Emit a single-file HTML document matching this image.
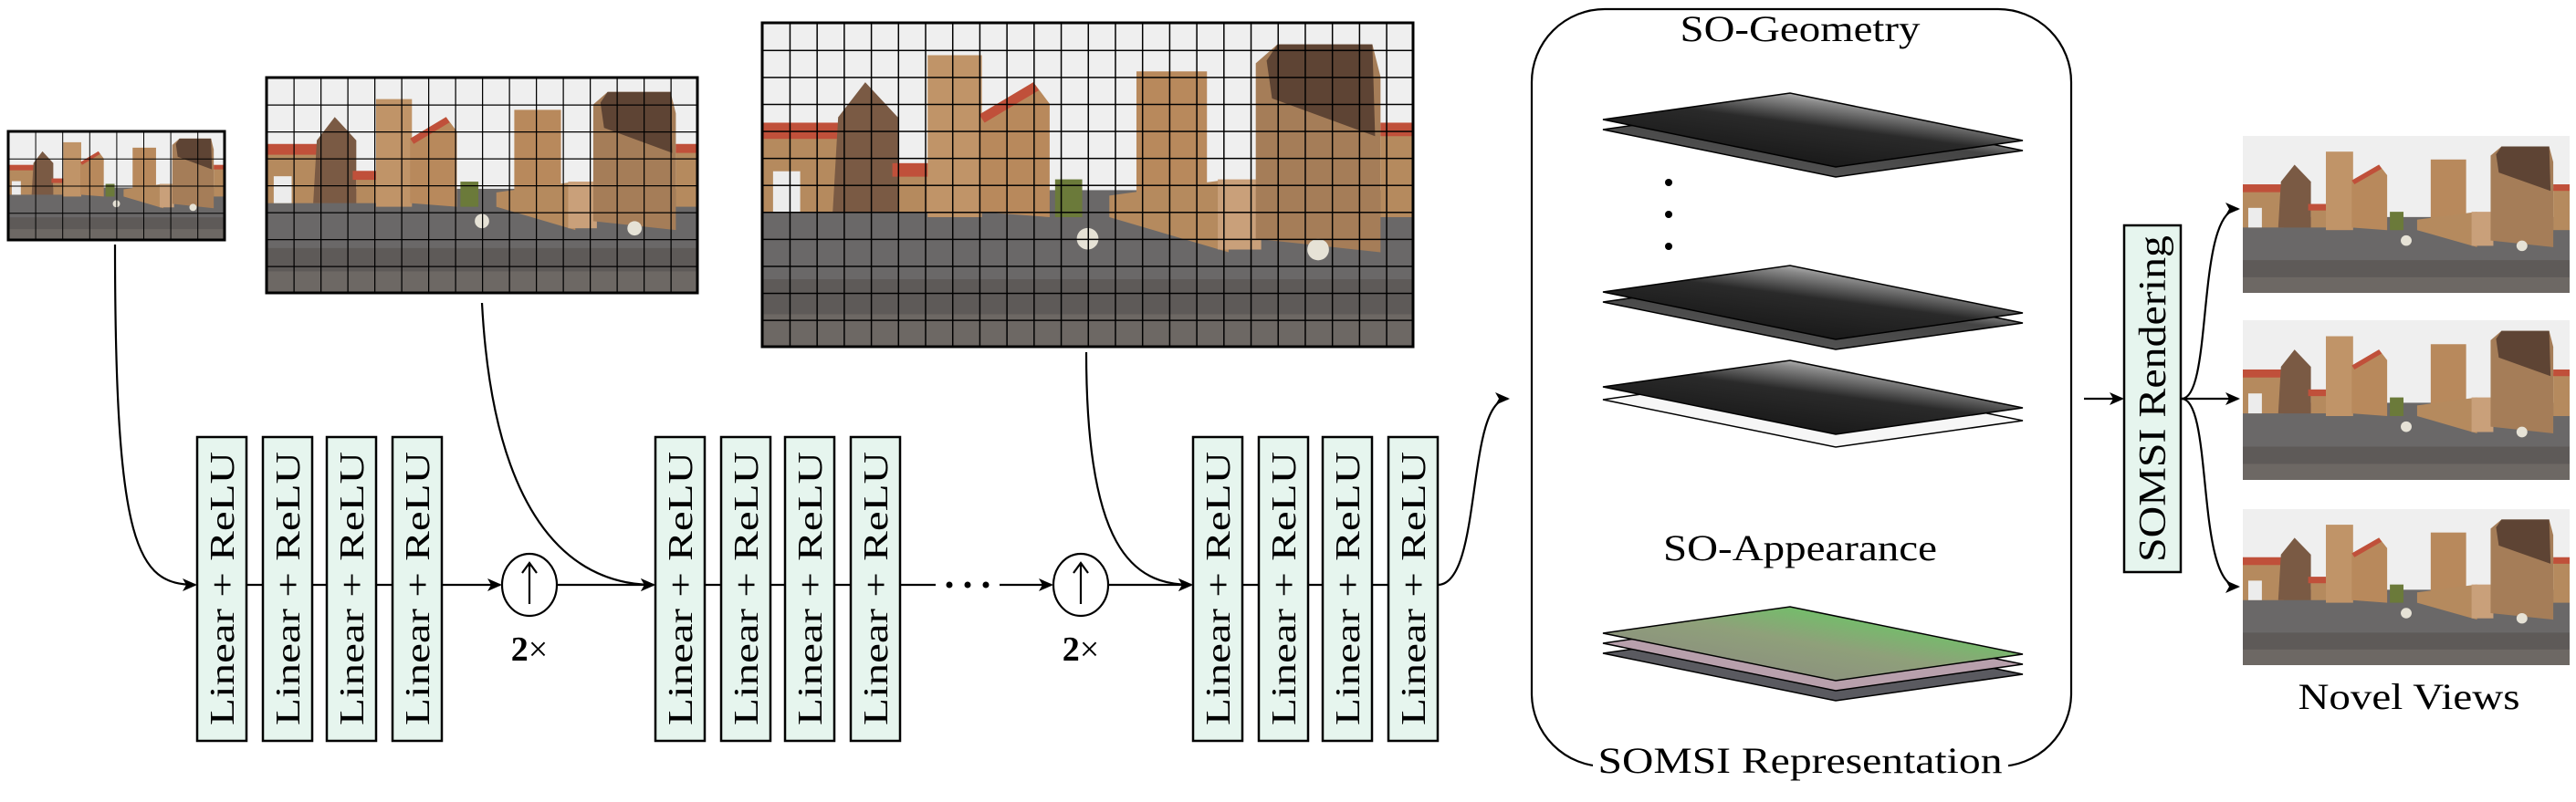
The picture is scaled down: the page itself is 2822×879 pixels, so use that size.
<!DOCTYPE html>
<html><head><meta charset="utf-8"><style>html,body{margin:0;padding:0;background:#fff}svg{display:block}</style></head>
<body>
<svg width="2822" height="879" viewBox="0 0 2822 879" xmlns="http://www.w3.org/2000/svg" font-family="'Liberation Serif', serif">
<defs>
<marker id="ah" markerWidth="16" markerHeight="14" refX="14" refY="7" orient="auto" markerUnits="userSpaceOnUse">
<path d="M0,0 L16,7 L0,14 L4,7 Z" fill="#000"/></marker>
<symbol id="scene" viewBox="0 0 240 120" preserveAspectRatio="none">
<rect width="240" height="120" fill="#efefef"/>
<rect y="62" width="240" height="58" fill="#6a6868"/>
<rect y="95" width="240" height="25" fill="#5e5a58"/>
<rect y="108" width="240" height="12" fill="#6d6864"/>
<rect x="0" y="40" width="30" height="30" fill="#b58a5e"/><rect x="0" y="37" width="30" height="6" fill="#c0503a"/>
<rect x="4" y="55" width="10" height="15" fill="#ececec"/>
<polygon points="26,70 28,35 38,22 50,35 50,70" fill="#7a5a44"/>
<rect x="50" y="56" width="16" height="14" fill="#b58a5e"/><rect x="48" y="52" width="18" height="5" fill="#c0503a"/>
<rect x="61" y="12" width="20" height="60" fill="#c09468"/>
<polygon points="80,70 80,34 100,22 106,30 106,72" fill="#b8895c"/><polygon points="80,34 100,22 102,25 82,37" fill="#c0503a"/>
<rect x="108" y="58" width="10" height="14" fill="#6b7a3a"/>
<rect x="138" y="18" width="26" height="50" fill="#b8895c"/>
<polygon points="128,64 172,58 172,85 128,72" fill="#b58a5e"/>
<rect x="168" y="58" width="16" height="26" fill="#c9a07a"/>
<polygon points="182,80 182,15 190,8 225,8 228,20 228,85" fill="#a57d58"/>
<polygon points="186,14 190,8 225,8 226,42 188,28" fill="#5e4434"/>
<rect x="228" y="40" width="12" height="32" fill="#b58a5e"/><rect x="228" y="37" width="12" height="5" fill="#c0503a"/>
<circle cx="120" cy="80" r="4" fill="#e6e2d6"/><circle cx="205" cy="84" r="4" fill="#e6e2d6"/>
</symbol>
<linearGradient id="geo" x1="0.2" y1="0.9" x2="0.8" y2="0.1"><stop offset="0" stop-color="#151515"/><stop offset="0.55" stop-color="#2a2a2a"/><stop offset="0.8" stop-color="#888"/><stop offset="1" stop-color="#f4f4f4"/></linearGradient>
<linearGradient id="geo2" x1="0.2" y1="0.9" x2="0.8" y2="0.1"><stop offset="0" stop-color="#555"/><stop offset="0.6" stop-color="#444"/><stop offset="1" stop-color="#fff"/></linearGradient>
<linearGradient id="app" x1="0.1" y1="0.9" x2="0.9" y2="0.1"><stop offset="0" stop-color="#8a8a80"/><stop offset="0.5" stop-color="#8fa07a"/><stop offset="1" stop-color="#5fd35f"/></linearGradient>
<pattern id="g24" width="29.71" height="29.58" patternUnits="userSpaceOnUse" x="835" y="25"><path d="M0,0 H29.71 M0,0 V29.58" stroke="#000" stroke-width="3" fill="none"/></pattern>
<pattern id="g16" width="29.5" height="29.5" patternUnits="userSpaceOnUse" x="292" y="85"><path d="M0,0 H29.5 M0,0 V29.5" stroke="#000" stroke-width="2.5" fill="none"/></pattern>
<pattern id="g8" width="29.6" height="29.75" patternUnits="userSpaceOnUse" x="9" y="144"><path d="M0,0 H29.6 M0,0 V29.75" stroke="#000" stroke-width="2" fill="none"/></pattern>
</defs>

<!-- input images -->
<use href="#scene" x="9" y="144" width="237" height="119"/><rect x="9" y="144" width="237" height="119" fill="url(#g8)" stroke="#000" stroke-width="3"/>
<use href="#scene" x="292" y="85" width="472" height="236"/><rect x="292" y="85" width="472" height="236" fill="url(#g16)" stroke="#000" stroke-width="3"/>
<use href="#scene" x="835" y="25" width="713" height="355"/><rect x="835" y="25" width="713" height="355" fill="url(#g24)" stroke="#000" stroke-width="3"/>

<!-- connectors -->
<g fill="none" stroke="#000" stroke-width="2.2">
<path d="M126,268 C126,600 150,641 214,641" marker-end="url(#ah)"/>
<path d="M528,332 C540,560 620,641 716,641" marker-end="url(#ah)"/>
<path d="M1190,386 C1190,600 1240,641 1305,641" marker-end="url(#ah)"/>
<path d="M484,641 L548,641" marker-end="url(#ah)"/>
<path d="M216,641 H484"/>
<path d="M610,641 L716,641" marker-end="url(#ah)"/>
<path d="M718,641 H1025"/>
<path d="M1095,641 L1152,641" marker-end="url(#ah)"/>
<path d="M1214,641 L1305,641" marker-end="url(#ah)"/>
<path d="M1307,641 H1575"/>
<path d="M1575,641 C1625,641 1605,437 1652,437" marker-end="url(#ah)"/>
<path d="M2283,437 L2325,437" marker-end="url(#ah)"/>
<path d="M2390,437 C2425,437 2405,229 2452,229" marker-end="url(#ah)"/>
<path d="M2390,437 L2452,437" marker-end="url(#ah)"/>
<path d="M2390,437 C2425,437 2405,643 2452,643" marker-end="url(#ah)"/>
</g>
<g fill="#000"><circle cx="1040" cy="641" r="3.5"/><circle cx="1060" cy="641" r="3.5"/><circle cx="1080" cy="641" r="3.5"/></g>

<!-- circles -->
<g stroke="#000" stroke-width="2.2" fill="#fff">
<ellipse cx="580" cy="641" rx="30" ry="34"/><ellipse cx="1184" cy="641" rx="30" ry="34"/>
</g>
<g stroke="#000" stroke-width="2.2" fill="none">
<path d="M580,662 V618 M572,628 L580,617 L588,628"/><path d="M1184,662 V618 M1176,628 L1184,617 L1192,628"/>
</g>
<text x="580" y="724" font-size="38" text-anchor="middle"><tspan font-weight="bold">2</tspan>×</text>
<text x="1184" y="724" font-size="38" text-anchor="middle"><tspan font-weight="bold">2</tspan>×</text>

<!-- linear boxes -->
<g stroke="#000" stroke-width="2.5" fill="#e6f5ee">
<rect x="216" y="479" width="54" height="333"/><rect x="288" y="479" width="54" height="333"/><rect x="358" y="479" width="54" height="333"/><rect x="430" y="479" width="54" height="333"/>
<rect x="718" y="479" width="54" height="333"/><rect x="790" y="479" width="54" height="333"/><rect x="860" y="479" width="54" height="333"/><rect x="932" y="479" width="54" height="333"/>
<rect x="1307" y="479" width="54" height="333"/><rect x="1379" y="479" width="54" height="333"/><rect x="1449" y="479" width="54" height="333"/><rect x="1521" y="479" width="54" height="333"/>
</g>
<g font-size="38" text-anchor="middle">
<text transform="translate(256,645) rotate(-90)" textLength="300" lengthAdjust="spacingAndGlyphs">Linear + ReLU</text>
<text transform="translate(328,645) rotate(-90)" textLength="300" lengthAdjust="spacingAndGlyphs">Linear + ReLU</text>
<text transform="translate(398,645) rotate(-90)" textLength="300" lengthAdjust="spacingAndGlyphs">Linear + ReLU</text>
<text transform="translate(470,645) rotate(-90)" textLength="300" lengthAdjust="spacingAndGlyphs">Linear + ReLU</text>
<text transform="translate(758,645) rotate(-90)" textLength="300" lengthAdjust="spacingAndGlyphs">Linear + ReLU</text>
<text transform="translate(830,645) rotate(-90)" textLength="300" lengthAdjust="spacingAndGlyphs">Linear + ReLU</text>
<text transform="translate(900,645) rotate(-90)" textLength="300" lengthAdjust="spacingAndGlyphs">Linear + ReLU</text>
<text transform="translate(972,645) rotate(-90)" textLength="300" lengthAdjust="spacingAndGlyphs">Linear + ReLU</text>
<text transform="translate(1347,645) rotate(-90)" textLength="300" lengthAdjust="spacingAndGlyphs">Linear + ReLU</text>
<text transform="translate(1419,645) rotate(-90)" textLength="300" lengthAdjust="spacingAndGlyphs">Linear + ReLU</text>
<text transform="translate(1489,645) rotate(-90)" textLength="300" lengthAdjust="spacingAndGlyphs">Linear + ReLU</text>
<text transform="translate(1561,645) rotate(-90)" textLength="300" lengthAdjust="spacingAndGlyphs">Linear + ReLU</text>
</g>

<!-- SOMSI representation -->
<rect x="1678" y="10" width="591" height="830" rx="80" ry="80" fill="none" stroke="#000" stroke-width="2.2"/>
<rect x="1745" y="815" width="455" height="40" fill="#fff"/>
<text x="1972" y="847" font-size="40" text-anchor="middle" textLength="443" lengthAdjust="spacingAndGlyphs">SOMSI Representation</text>
<text x="1972" y="45" font-size="40" text-anchor="middle" textLength="263" lengthAdjust="spacingAndGlyphs">SO-Geometry</text>
<text x="1972" y="614" font-size="40" text-anchor="middle" textLength="300" lengthAdjust="spacingAndGlyphs">SO-Appearance</text>

<g stroke="#000" stroke-width="1.5">
<g transform="translate(0,11)"><polygon points="1756,131 1961,102 2216,154 2011,183" fill="url(#geo2)"/></g>
<polygon points="1756,131 1961,102 2216,154 2011,183" fill="url(#geo)"/>
<g transform="translate(0,200)"><polygon points="1756,131 1961,102 2216,154 2011,183" fill="url(#geo2)"/></g>
<g transform="translate(0,189)"><polygon points="1756,131 1961,102 2216,154 2011,183" fill="url(#geo)"/></g>
<g transform="translate(0,307)"><polygon points="1756,131 1961,102 2216,154 2011,183" fill="#f6f6f6"/></g>
<g transform="translate(0,293)"><polygon points="1756,131 1961,102 2216,154 2011,183" fill="url(#geo)"/></g>
<g transform="translate(0,585)"><polygon points="1756,131 1961,102 2216,154 2011,183" fill="#5a5a60"/></g>
<g transform="translate(0,574)"><polygon points="1756,131 1961,102 2216,154 2011,183" fill="#b8a0ac"/></g>
<g transform="translate(0,563)"><polygon points="1756,131 1961,102 2216,154 2011,183" fill="url(#app)"/></g>
</g>
<g fill="#000"><circle cx="1828" cy="200" r="4"/><circle cx="1828" cy="235" r="4"/><circle cx="1828" cy="270" r="4"/></g>

<!-- SOMSI rendering -->
<rect x="2327" y="247" width="62" height="380" fill="#e6f5ee" stroke="#000" stroke-width="2.5"/>
<text transform="translate(2372,437) rotate(-90)" font-size="42" text-anchor="middle" textLength="358" lengthAdjust="spacingAndGlyphs">SOMSI Rendering</text>

<!-- novel views -->
<use href="#scene" x="2457" y="149" width="358" height="172"/>
<use href="#scene" x="2457" y="351" width="358" height="175"/>
<use href="#scene" x="2457" y="558" width="358" height="171"/>
<text x="2639" y="777" font-size="40" text-anchor="middle" textLength="243" lengthAdjust="spacingAndGlyphs">Novel Views</text>
</svg>
</body></html>
